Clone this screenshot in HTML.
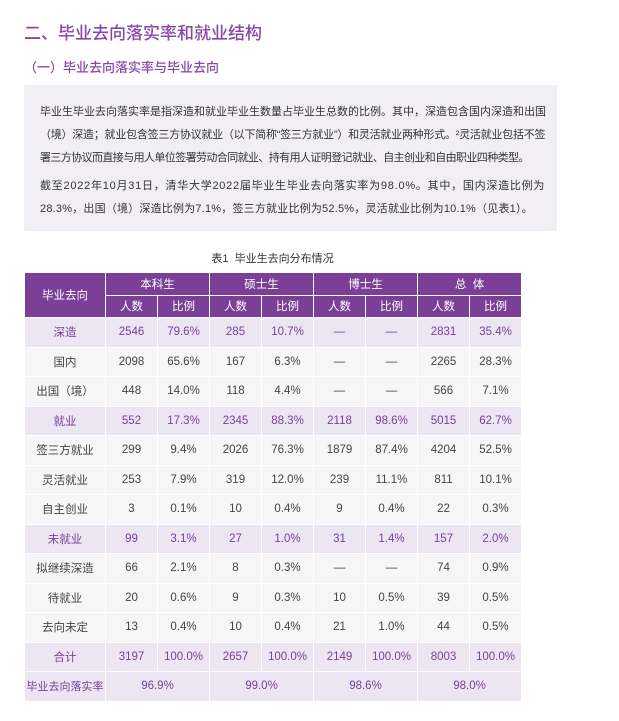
<!DOCTYPE html>
<html><head><meta charset="utf-8">
<style>
*{margin:0;padding:0;box-sizing:border-box}
body{width:619px;height:721px;background:#fff;position:relative;overflow:hidden;font-family:"Liberation Sans","Noto Sans CJK SC",sans-serif;color:#333}
.h1{position:absolute;left:24px;top:19px;font-size:17px;color:#8a47a8;font-weight:500}
.h2{position:absolute;left:24px;top:57px;font-size:13px;color:#8a47a8;font-weight:500}
.box{position:absolute;left:24px;top:85px;width:533px;height:146px;background:#f1eff4}
.box p{position:absolute;left:16px;font-size:11px;white-space:nowrap;color:#333}
.cap{position:absolute;left:0;width:545px;text-align:center;top:250px;font-size:11px;color:#333}
table{position:absolute;left:24px;top:272px;border-collapse:collapse;table-layout:fixed;width:497px}
td,th{border:1px solid #fff;text-align:center;font-size:11.5px;font-weight:normal;padding:0;white-space:nowrap}
th{background:#7b3f98;color:#fff;height:22.5px}
td{background:#f6f6f6;height:29.5px;color:#444}
tr.g td{background:#ece6f3;color:#7a3e9a}
</style></head><body>
<div class="h1">二、毕业去向落实率和就业结构</div>
<div class="h2">（一）毕业去向落实率与毕业去向</div>
<div class="box">
<p style="top:18px">毕业生毕业去向落实率是指深造和就业毕业生数量占毕业生总数的比例。其中，深造包含国内深造和出国</p>
<p style="top:41px;letter-spacing:-0.24px">（境）深造；就业包含签三方协议就业（以下简称“签三方就业”）和灵活就业两种形式。²灵活就业包括不签</p>
<p style="top:64px;letter-spacing:-0.6px">署三方协议而直接与用人单位签署劳动合同就业、持有用人证明登记就业、自主创业和自由职业四种类型。</p>
<p style="top:92px;letter-spacing:0.75px">截至2022年10月31日，清华大学2022届毕业生毕业去向落实率为98.0%。其中，国内深造比例为</p>
<p style="top:115px;letter-spacing:0.2px">28.3%，出国（境）深造比例为7.1%，签三方就业比例为52.5%，灵活就业比例为10.1%（见表1）。</p>
</div>
<div class="cap">表1&nbsp; 毕业生去向分布情况</div>
<table>
<colgroup><col style="width:81px"><col span="8" style="width:52px"></colgroup>
<tr><th rowspan="2">毕业去向</th><th colspan="2">本科生</th><th colspan="2">硕士生</th><th colspan="2">博士生</th><th colspan="2">总&nbsp; 体</th></tr>
<tr><th>人数</th><th>比例</th><th>人数</th><th>比例</th><th>人数</th><th>比例</th><th>人数</th><th>比例</th></tr>
<tr class="g"><td>深造</td><td>2546</td><td>79.6%</td><td>285</td><td>10.7%</td><td>—</td><td>—</td><td>2831</td><td>35.4%</td></tr>
<tr><td>国内</td><td>2098</td><td>65.6%</td><td>167</td><td>6.3%</td><td>—</td><td>—</td><td>2265</td><td>28.3%</td></tr>
<tr><td>出国（境）</td><td>448</td><td>14.0%</td><td>118</td><td>4.4%</td><td>—</td><td>—</td><td>566</td><td>7.1%</td></tr>
<tr class="g"><td>就业</td><td>552</td><td>17.3%</td><td>2345</td><td>88.3%</td><td>2118</td><td>98.6%</td><td>5015</td><td>62.7%</td></tr>
<tr><td>签三方就业</td><td>299</td><td>9.4%</td><td>2026</td><td>76.3%</td><td>1879</td><td>87.4%</td><td>4204</td><td>52.5%</td></tr>
<tr><td>灵活就业</td><td>253</td><td>7.9%</td><td>319</td><td>12.0%</td><td>239</td><td>11.1%</td><td>811</td><td>10.1%</td></tr>
<tr><td>自主创业</td><td>3</td><td>0.1%</td><td>10</td><td>0.4%</td><td>9</td><td>0.4%</td><td>22</td><td>0.3%</td></tr>
<tr class="g"><td>未就业</td><td>99</td><td>3.1%</td><td>27</td><td>1.0%</td><td>31</td><td>1.4%</td><td>157</td><td>2.0%</td></tr>
<tr><td>拟继续深造</td><td>66</td><td>2.1%</td><td>8</td><td>0.3%</td><td>—</td><td>—</td><td>74</td><td>0.9%</td></tr>
<tr><td>待就业</td><td>20</td><td>0.6%</td><td>9</td><td>0.3%</td><td>10</td><td>0.5%</td><td>39</td><td>0.5%</td></tr>
<tr><td>去向未定</td><td>13</td><td>0.4%</td><td>10</td><td>0.4%</td><td>21</td><td>1.0%</td><td>44</td><td>0.5%</td></tr>
<tr class="g"><td>合计</td><td>3197</td><td>100.0%</td><td>2657</td><td>100.0%</td><td>2149</td><td>100.0%</td><td>8003</td><td>100.0%</td></tr>
<tr class="g"><td style="font-size:11px">毕业去向落实率</td><td colspan="2">96.9%</td><td colspan="2">99.0%</td><td colspan="2">98.6%</td><td colspan="2">98.0%</td></tr>
</table>
</body></html>
